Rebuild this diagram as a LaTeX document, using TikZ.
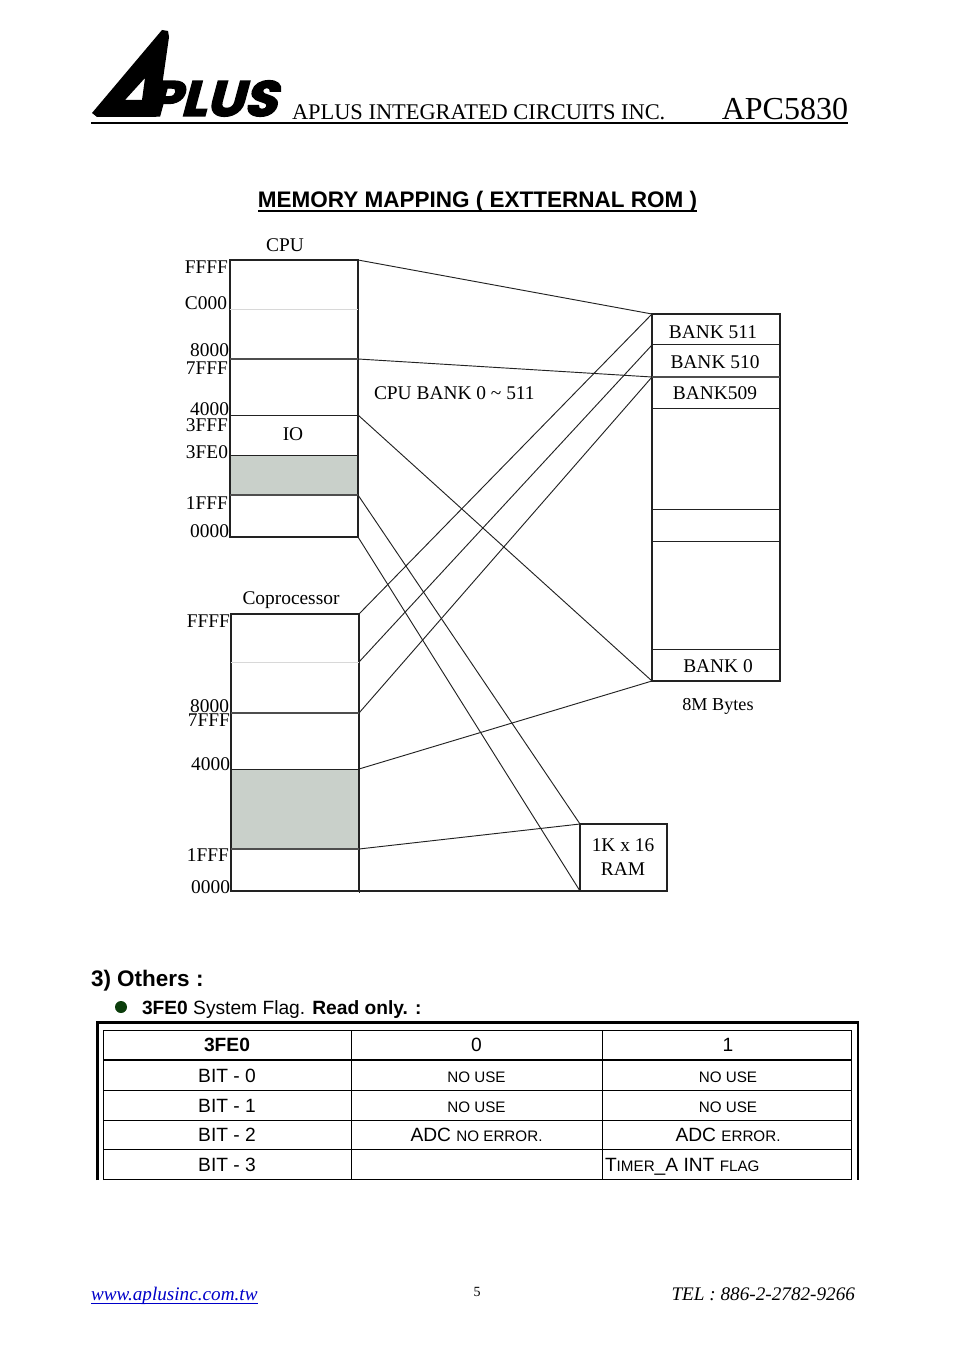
\documentclass[tikz,border=0pt]{standalone}
\usepackage{fontspec}
\setmainfont{Liberation Serif}
\setsansfont{Liberation Sans}
\newfontfamily\logofont[FakeSlant=0.25,BoldFeatures={FakeSlant=0.25,FakeBold=3}]{Poppins}
\newcommand{\px}[1]{\edef\tmpsz{\the\dimexpr #1pt*3/4\relax}\fontsize{\tmpsz}{\tmpsz}\selectfont}
\newcommand{\bigtxt}{\px{19.2}}
\newcommand{\smltxt}{\px{15.2}}
\definecolor{panelgray}{HTML}{C9D0CA}
\definecolor{ink}{HTML}{222222}
\definecolor{faint}{HTML}{D8D8D8}
\definecolor{bullet}{HTML}{0B3D0B}
\definecolor{linkblue}{HTML}{0000C8}
\tikzset{
  x=0.75pt,y=-0.75pt,
  every node/.style={inner sep=0pt,outer sep=0pt},
  mapbox/.style={draw=ink,line width=0.85pt},
  rule/.style={draw=ink,line width=0.75pt},
  heavyrule/.style={draw=ink!80,line width=1.1pt},
  lightrule/.style={draw=faint,line width=0.75pt},
  wire/.style={draw=ink,line width=0.7pt},
  addr/.style={anchor=base east,font=\px{19.4}},
  maplabel/.style={anchor=base,font=\px{19.4}},
  cell/.style={anchor=base,font=\sffamily\bigtxt,text=black},
  tline/.style={draw=black,line width=0.75pt},
  tthick/.style={draw=black,line width=1.5pt},
  touter/.style={draw=black,line width=2.2pt},
}
\begin{document}
\begin{tikzpicture}
\useasboundingbox (0,0) rectangle (954,1351);
% ---------- header
\fill[black] (162,30) -- (168,31) -- (169,37) -- (158,114) -- (156,117) -- (97,117) -- (92,113) -- cycle
  (125,100) -- (142,100) -- (145,78) -- cycle;
\node[anchor=base west] (logotext) at (147,116) {\resizebox{97pt}{26.5pt}{\logofont\bfseries PLUS}};
\draw[black,line width=1.3pt] (91,123) -- (848,123);
\node[anchor=base west,font=\px{22.4}] (company) at (292,120) {APLUS INTEGRATED CIRCUITS INC.};
\node[anchor=base east,font=\px{32}] (partno) at (848,120) {APC5830};
% ---------- title
\node[anchor=base,font=\sffamily\bfseries\px{22.5}] (title) at (477.5,207.5) {MEMORY MAPPING ( EXTTERNAL ROM )};
\draw[black,line width=1.3pt] (258,211) -- (697,211);
% ---------- CPU map
\fill[panelgray] (230,455) rectangle (358,495);
\fill[panelgray] (231,769) rectangle (359,849);
\coordinate (c0) at (358,260);
\coordinate (c8) at (358,359);
\coordinate (c4) at (358,415);
\coordinate (c1) at (358,495);
\coordinate (cb) at (358,537);
\draw[mapbox] (230,260) rectangle (cb);
\draw[lightrule] (230,310) -- (358,310);
\draw[heavyrule] (230,359) -- (c8);
\draw[rule] (230,415) -- (c4);
\draw[rule] (230,455) -- (358,455);
\draw[heavyrule] (230,495) -- (c1);
\node[maplabel] (cpu) at (285,252) {CPU};
\node[maplabel] (io) at (293,440) {IO};
\node[addr] (a1) at (228,274) {FFFF};
\node[addr] (a2) at (227,310) {C000};
\node[addr] (a3) at (229,357) {8000};
\node[addr] (a4) at (228,374) {7FFF};
\node[addr] (a5) at (229,415.5) {4000};
\node[addr] (a6) at (228,431) {3FFF};
\node[addr] (a7) at (228,458) {3FE0};
\node[addr] (a8) at (228,509) {1FFF};
\node[addr] (a9) at (229,537) {0000};
% ---------- Coprocessor map
\coordinate (p0) at (359,614);
\coordinate (p1) at (359,662);
\coordinate (p2) at (359,713);
\coordinate (p3) at (359,769);
\coordinate (p4) at (359,849);
\coordinate (pb) at (359,891);
\draw[mapbox] (231,614) rectangle (pb);
\draw[line width=0.75pt,draw=ink] (359,614) -- (359,893);
\draw[lightrule] (231,662) -- (p1);
\draw[heavyrule] (231,713) -- (p2);
\draw[rule] (231,769) -- (p3);
\draw[heavyrule] (231,849) -- (p4);
\node[maplabel] (copro) at (291,604) {Coprocessor};
\node[addr] (b1) at (230,627) {FFFF};
\node[addr] (b2) at (229,712) {8000};
\node[addr] (b3) at (230,726.5) {7FFF};
\node[addr] (b4) at (230,770) {4000};
\node[addr] (b5) at (229,861) {1FFF};
\node[addr] (b6) at (230,893) {0000};
% ---------- Bank map
\coordinate (k511) at (652,314);
\coordinate (k510) at (652,345);
\coordinate (k509) at (652,377);
\coordinate (k0) at (652,681);
\draw[mapbox] (k511) rectangle (780,681);
\draw[rule] (k510) -- (780,345);
\draw[heavyrule] (k509) -- (780,377);
\draw[rule] (652,408) -- (780,408);
\draw[rule] (652,509) -- (780,509);
\draw[rule] (652,541) -- (780,541);
\draw[rule] (652,649) -- (780,649);
\node[maplabel] (n511) at (713,338.5) {BANK 511};
\node[maplabel] (n510) at (715,368.5) {BANK 510};
\node[maplabel] (n509) at (715,399.5) {BANK509};
\node[maplabel] (n0) at (718,672) {BANK 0};
\node[maplabel,font=\px{18.2}] (size) at (718,710) {8M Bytes};
\node[anchor=base west,font=\px{19.4}] (range) at (374,399) {CPU BANK 0 \textasciitilde{} 511};
% ---------- RAM
\coordinate (rt) at (580,824);
\coordinate (rb) at (580,891);
\draw[mapbox] (rt) rectangle (667,891);
\draw[mapbox] (pb) -- (rb);
\node[maplabel] (ram1) at (623,851) {1K x 16};
\node[maplabel] (ram2) at (623,875) {RAM};
% ---------- connectors
\draw[wire] (c0) -- (k511);
\draw[wire] (c8) -- (k509);
\draw[wire] (c4) -- (k0);
\draw[wire] (c1) -- (rt);
\draw[wire] (cb) -- (rb);
\draw[wire] (p0) -- (k511);
\draw[wire] (p1) -- (k510);
\draw[wire] (p2) -- (k509);
\draw[wire] (p3) -- (k0);
\draw[wire] (p4) -- (rt);
% ---------- Others
\node[anchor=base west,font=\sffamily\bfseries\px{22.5}] (others) at (91,986) {3) Others :};
\fill[bullet] (121,1007) circle (6);
\node[anchor=base west,font=\sffamily\bigtxt] (flag) at (142,1014) {\textbf{3FE0} System Flag. \textbf{Read only. :}};
% ---------- table
\draw[touter] (97.5,1180) -- (97.5,1022.5) -- (858,1022.5) -- (858,1180);
\draw[tline] (103.5,1180) -- (103.5,1030) -- (851,1030) -- (851,1180);
\draw[tline] (351.5,1030) -- (351.5,1180);
\draw[tline] (602.5,1030) -- (602.5,1180);
\draw[tthick] (103.5,1060) -- (851,1060);
\draw[tline] (103.5,1090) -- (851,1090);
\draw[tline] (103.5,1120) -- (851,1120);
\draw[tline] (103.5,1149) -- (851,1149);
\draw[tline] (103.5,1179.5) -- (851,1179.5);
\node[cell] (t00) at (227,1051) {\textbf{3FE0}};
\node[cell] (t01) at (476.5,1051) {0};
\node[cell] (t02) at (728,1051) {1};
\node[cell] (t10) at (227,1082) {BIT - 0};
\node[cell] (t11) at (476.5,1082) {\smltxt NO USE};
\node[cell] (t12) at (728,1082) {\smltxt NO USE};
\node[cell] (t20) at (227,1112) {BIT - 1};
\node[cell] (t21) at (476.5,1112) {\smltxt NO USE};
\node[cell] (t22) at (728,1112) {\smltxt NO USE};
\node[cell] (t30) at (227,1141) {BIT - 2};
\node[cell] (t31) at (476.5,1141) {ADC {\smltxt NO ERROR.}};
\node[cell] (t32) at (728,1141) {ADC {\smltxt ERROR.}};
\node[cell] (t40) at (227,1171) {BIT - 3};
\node[cell,anchor=base west] (t42) at (605,1171) {T{\smltxt IMER}\_A INT {\smltxt FLAG}};
% ---------- footer
\node[anchor=base west,font=\itshape\bigtxt,text=linkblue] (url) at (91,1300) {www.aplusinc.com.tw};
\draw[linkblue,line width=0.75pt] (91,1303) -- (258,1303);
\node[anchor=base,font=\px{14}] (page) at (477,1296) {5};
\node[anchor=base east,font=\itshape\bigtxt] (tel) at (855,1300) {TEL : 886-2-2782-9266};
\end{tikzpicture}
\end{document}
